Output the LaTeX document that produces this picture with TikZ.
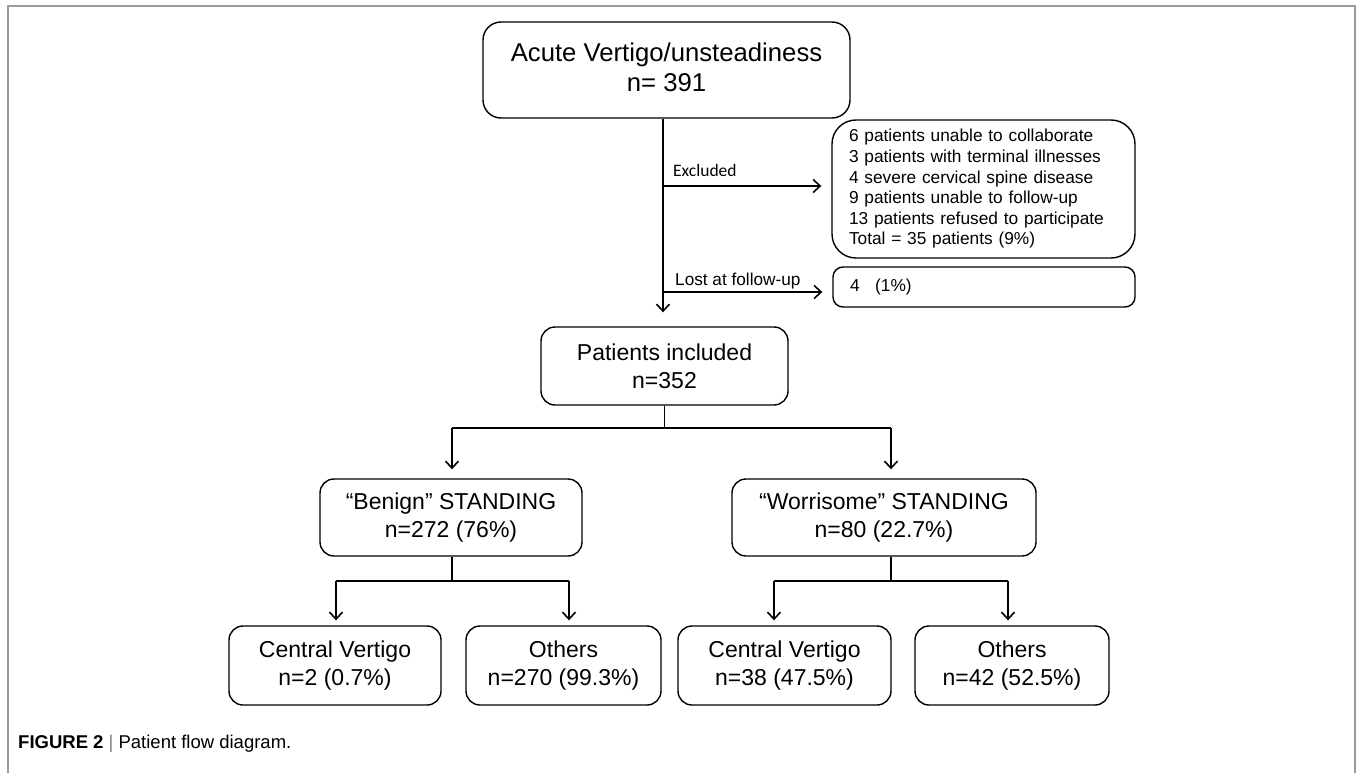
\documentclass[tikz,border=0pt]{standalone}
\usepackage{fontspec}
\setmainfont{Liberation Sans}
\newfontfamily\exclfont{Carlito}
\usetikzlibrary{arrows.meta}
\definecolor{framegray}{HTML}{9A9A9A}
\tikzset{
  box/.style={draw=black, line width=1.4pt, inner sep=0pt, align=center},
  conn/.style={draw=black, line width=1.6pt},
  arr/.style={conn, -{Straight Barb[length=7pt,width=13pt]}},
  midtxt/.style={font=\fontsize{23}{28}\selectfont},
  smalltxt/.style={font=\fontsize{17.3}{20.6}\selectfont},
}
\begin{document}
\begin{tikzpicture}[x=1pt,y=-1pt]
\useasboundingbox (0,0) rectangle (1357,773);
% frame
\draw[framegray, line width=2pt] (8,773) -- (8,6) -- (1355,6) -- (1355,773);

% boxes
\node[box, rounded corners=18pt, minimum width=367pt, minimum height=96pt,
      font=\fontsize{25.7}{31}\selectfont] (top) at (666.5,70)
      {\raisebox{-6pt}{\begin{tabular}{@{}c@{}}Acute Vertigo/unsteadiness\\[-1pt] n= 391\end{tabular}}};
\node[box, rounded corners=24pt, minimum width=303pt, minimum height=138pt,
      text width=269pt, inner xsep=17pt, align=left, smalltxt] (excl) at (983.5,189)
      {6 patients unable to collaborate\\
       3 patients with terminal illnesses\\
       4 severe cervical spine disease\\
       9 patients unable to follow-up\\
       13 patients refused to participate\\
       Total = 35 patients (9\%)};
\node[box, rounded corners=10pt, minimum width=302pt, minimum height=40pt,
      text width=268pt, inner xsep=17pt, align=left, smalltxt] (lost) at (984,287)
      {4\hspace{0.9em}(1\%)};
\node[box, rounded corners=14pt, minimum width=247pt, minimum height=78pt, midtxt] (pat) at (664.5,366)
      {Patients included\\ n=352};
\node[box, rounded corners=14pt, minimum width=262pt, minimum height=77pt, midtxt] (ben) at (451,517.5)
      {``Benign'' STANDING\\ n=272 (76\%)};
\node[box, rounded corners=14pt, minimum width=304pt, minimum height=77pt, midtxt] (wor) at (884,517.5)
      {``Worrisome'' STANDING\\ n=80 (22.7\%)};
\node[box, rounded corners=14pt, minimum width=212pt, minimum height=79pt, midtxt] (cv1) at (335,665.5)
      {Central Vertigo\\ n=2 (0.7\%)};
\node[box, rounded corners=14pt, minimum width=195pt, minimum height=79pt, midtxt] (ot1) at (563.5,665.5)
      {Others\\ n=270 (99.3\%)};
\node[box, rounded corners=14pt, minimum width=213pt, minimum height=79pt, midtxt] (cv2) at (784.5,665.5)
      {Central Vertigo\\ n=38 (47.5\%)};
\node[box, rounded corners=14pt, minimum width=194pt, minimum height=79pt, midtxt] (ot2) at (1012,665.5)
      {Others\\ n=42 (52.5\%)};

% labels
\node[anchor=base west, inner sep=0pt, font=\exclfont\fontsize{17.5}{20}\selectfont] (exlab) at (673,176) {Excluded};
\node[anchor=base west, inner sep=0pt, font=\fontsize{17.2}{20}\selectfont] (lostlab) at (675,285) {Lost at follow-up};

% helper coordinates
\coordinate (trunk) at (663,0);
\coordinate (exY) at (0,186);
\coordinate (lostY) at (0,292);
\coordinate (spl) at (0,428);
\coordinate (spl2) at (0,581);
\coordinate (xb) at (452,0);
\coordinate (xw) at (891,0);
\coordinate (xc1) at (336,0);
\coordinate (xo1) at (569,0);
\coordinate (xc2) at (774,0);
\coordinate (xo2) at (1008,0);

% connectors
\draw[arr, shorten >=14pt] (top.south -| trunk) -- (pat.north -| trunk);
\draw[arr, shorten >=10pt] (trunk |- exY) -- (excl.west |- exY);
\draw[arr, shorten >=10pt] (trunk |- lostY) -- (lost.west |- lostY);

\draw[conn] (pat.south) -- (pat.south |- spl);
\draw[conn] (xb |- spl) -- (xw |- spl);
\draw[arr, shorten >=9pt] (xb |- spl) -- (xb |- ben.north);
\draw[arr, shorten >=9pt] (xw |- spl) -- (xw |- wor.north);

\draw[conn] (xb |- ben.south) -- (xb |- spl2);
\draw[conn] (xc1 |- spl2) -- (xo1 |- spl2);
\draw[arr, shorten >=5pt] (xc1 |- spl2) -- (xc1 |- cv1.north);
\draw[arr, shorten >=5pt] (xo1 |- spl2) -- (xo1 |- ot1.north);

\draw[conn] (xw |- wor.south) -- (xw |- spl2);
\draw[conn] (xc2 |- spl2) -- (xo2 |- spl2);
\draw[arr, shorten >=5pt] (xc2 |- spl2) -- (xc2 |- cv2.north);
\draw[arr, shorten >=5pt] (xo2 |- spl2) -- (xo2 |- ot2.north);

% caption
\node[anchor=base west, inner sep=0pt, font=\fontsize{18.5}{22}\selectfont] (cap) at (18,748)
  {\textbf{FIGURE 2} \textcolor{gray}{|} Patient flow diagram.};
\end{tikzpicture}
\end{document}
